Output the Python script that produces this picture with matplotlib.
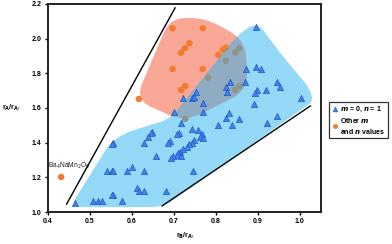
import matplotlib
matplotlib.use("Agg")
import matplotlib.pyplot as plt
import numpy as np
from matplotlib.path import Path
from matplotlib.patches import PathPatch
from matplotlib.lines import Line2D

plt.rcParams['font.family'] = ['Liberation Sans', 'DejaVu Sans']

# m = 0, n = 1 compounds (triangles)
tri_x = [0.895, 0.871, 0.895, 0.907, 0.945, 0.834, 0.870, 0.825, 0.753, 0.723,
         0.743, 0.748, 0.826, 0.898, 0.894, 0.920, 0.891, 0.769, 0.701, 0.769,
         0.945, 0.825, 0.856, 0.806, 0.838, 0.717, 0.921, 0.832, 0.953, 1.002,
         0.744, 0.757, 0.649, 0.646, 0.638, 0.713, 0.708, 0.767, 0.763, 0.770,
         0.691, 0.685, 0.556, 0.552, 0.628,
         0.748, 0.743, 0.736, 0.732, 0.723, 0.715, 0.710, 0.707, 0.699, 0.694, 0.717,
         0.658, 0.540, 0.552, 0.556, 0.588, 0.601, 0.628, 0.745,
         0.612, 0.616, 0.628, 0.556, 0.552, 0.681, 0.576, 0.507, 0.520, 0.529, 0.465]
tri_y = [2.066, 1.825, 1.838, 1.825, 1.752, 1.752, 1.752, 1.723, 1.694, 1.656,
         1.656, 1.665, 1.694, 1.704, 1.688, 1.704, 1.623, 1.627, 1.579, 1.575,
         1.556, 1.541, 1.537, 1.502, 1.502, 1.512, 1.515, 1.573, 1.723, 1.660,
         1.477, 1.473, 1.463, 1.454, 1.435, 1.458, 1.448, 1.448, 1.435, 1.429,
         1.411, 1.396, 1.396, 1.391, 1.396,
         1.415, 1.400, 1.391, 1.377, 1.362, 1.348, 1.339, 1.329, 1.323, 1.310, 1.323,
         1.325, 1.238, 1.238, 1.238, 1.238, 1.258, 1.238, 1.238,
         1.137, 1.123, 1.123, 1.098, 1.098, 1.121, 1.065, 1.065, 1.065, 1.065, 1.050]

# other m and n values (circles)
oth_x = [0.697, 0.769, 0.737, 0.727, 0.717, 0.697, 0.769, 0.727, 0.717, 0.617,
         0.824, 0.817, 0.806, 0.432,
         0.846, 0.856, 0.824, 0.782, 0.846, 0.856, 0.727]
oth_y = [2.060, 2.060, 1.973, 1.945, 1.919, 1.825, 1.825, 1.727, 1.704, 1.652,
         1.948, 1.935, 1.906, 1.202,
         1.921, 1.944, 1.871, 1.775, 1.704, 1.727, 1.537]

# shaded regions
blue_region = [(0.453, 1.029), (0.675, 1.029), (1.032, 1.640), (1.022, 1.716),
               (0.953, 1.917), (0.898, 2.096), (0.851, 2.020), (0.691, 1.537),
               (0.644, 1.502), (0.584, 1.456), (0.548, 1.398)]
red_region = [(0.691, 2.119), (0.775, 2.119), (0.870, 1.992), (0.877, 1.704),
              (0.727, 1.519), (0.608, 1.646)]

# guide lines
line1_x = [0.445, 0.703]
line1_y = [1.046, 2.177]
line2_x = [0.672, 1.025]
line2_y = [1.035, 1.612]

fig = plt.figure(figsize=(3.92, 2.44), dpi=100)
ax = fig.add_axes([0.1217, 0.131, 0.697, 0.853])
ax.set_xlim(0.4, 1.05)
ax.set_ylim(1.0, 2.2)


def rounded_patch(verts, radius, **kw):
    pts = ax.transData.transform(np.array(verts))
    n = len(pts)
    out, codes = [], []
    for i in range(n):
        p, a, b = pts[i], pts[i - 1], pts[(i + 1) % n]
        da, db = a - p, b - p
        la, lb = np.hypot(*da), np.hypot(*db)
        r = min(radius, 0.45 * la, 0.45 * lb)
        out.append(p + da / la * r)
        codes.append(Path.MOVETO if i == 0 else Path.LINETO)
        out += [p, p + db / lb * r]
        codes += [Path.CURVE3, Path.CURVE3]
    out.append(out[0])
    codes.append(Path.CLOSEPOLY)
    data = ax.transData.inverted().transform(np.array(out))
    return PathPatch(Path(data, codes), **kw)


ax.add_patch(rounded_patch(red_region, 18, facecolor='#f9a898', edgecolor='none', zorder=1))
ax.scatter(oth_x, oth_y, s=22, color='#f47a2e', edgecolors='none', zorder=2)
ax.add_patch(rounded_patch(blue_region, 12, facecolor='#1fb2f2', alpha=0.48,
                           edgecolor='none', zorder=3))
ax.scatter(tri_x, tri_y, s=20, marker='^', color='#3f84ea', edgecolors='#2356c8',
           linewidths=0.5, zorder=4)

ax.plot(line1_x, line1_y, color='black', lw=1.0, zorder=5)
ax.plot(line2_x, line2_y, color='black', lw=1.0, zorder=5)

ax.text(0.401, 1.235, 'Ba$_4$NaMn$_2$O$_9$', fontsize=4.8, ha='left', va='bottom', color='#222222')

ax.set_xticks(np.arange(0.4, 1.01, 0.1))
ax.set_xticklabels(['0.4', '0.5', '0.6', '0.7', '0.8', '0.9', '1.0'])
ax.set_yticks(np.arange(1.0, 2.21, 0.2))
ax.set_yticklabels(['1.0', '1.2', '1.4', '1.6', '1.8', '2.0', '2.2'])
ax.tick_params(labelsize=5, width=1.0, length=2.5, direction='out', pad=2)
for lab in ax.get_xticklabels() + ax.get_yticklabels():
    lab.set_fontweight('bold')
for sp in ax.spines.values():
    sp.set_linewidth(1.4)
    sp.set_color('#222222')

fig.text(185 / 392, 1 - 236 / 244, r'r$_\mathbf{B}$/r$_\mathbf{A\prime}$', fontsize=5, fontweight='bold',
         ha='center', va='center')
fig.text(11 / 392, 1 - 108 / 244, r'r$_\mathbf{A}$/r$_\mathbf{A\prime}$', fontsize=5, fontweight='bold',
         ha='center', va='center')

handles = [Line2D([], [], marker='^', ls='none', color='#3f84ea', markeredgecolor='#2356c8',
                  markeredgewidth=0.4, markersize=3.5),
           Line2D([], [], marker='o', ls='none', color='#f47a2e', markeredgecolor='none',
                  markersize=3.5)]
labels = [r'$\boldsymbol{m}$ = 0, $\boldsymbol{n}$ = 1',
          'Other $\\boldsymbol{m}$\nand $\\boldsymbol{n}$ values']
leg = fig.legend(handles, labels, loc='upper left', bbox_to_anchor=(329 / 392, 1 - 102 / 244),
                 prop={'size': 5, 'weight': 'bold'}, frameon=True, fancybox=False,
                 edgecolor='black', handlelength=0.8, handletextpad=0.4, borderpad=0.4,
                 labelspacing=0.3, borderaxespad=0)
leg.get_frame().set_linewidth(0.9)

fig.savefig('out.png', dpi=100)
